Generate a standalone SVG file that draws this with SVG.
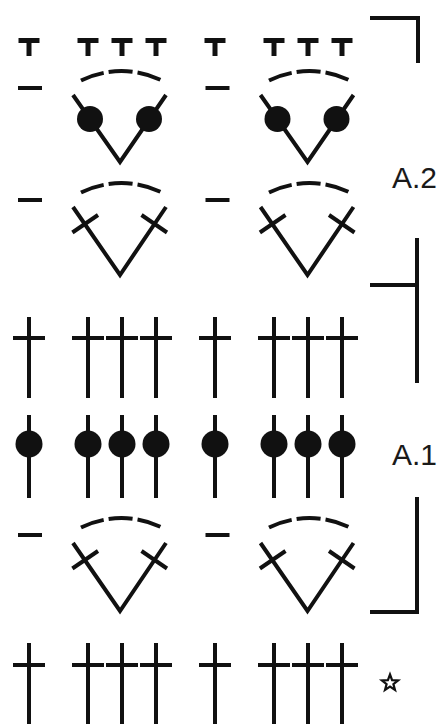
<svg xmlns="http://www.w3.org/2000/svg" width="444" height="724" viewBox="0 0 444 724">
<style>
.ln{stroke:#111;stroke-width:4;fill:none;stroke-linecap:butt}
.bold{stroke:#111;stroke-width:5;fill:none}
.dot{fill:#111}
.arc{stroke:#111;stroke-width:4;fill:none;stroke-dasharray:24 5}
.lbl{font-family:"Liberation Sans",Arial,sans-serif;font-size:30px;fill:#1a1a1a}
</style>
<defs>
<g id="ch"><line class="bold" x1="-10.5" y1="2.5" x2="10.5" y2="2.5"/><line class="bold" x1="0" y1="0" x2="0" y2="18"/></g>
<g id="dash"><line class="ln" x1="-12" y1="0" x2="12" y2="0"/></g>
<g id="arc"><path class="arc" d="M-40.5,9.5 A92,92 0 0 1 40.5,9.5"/></g>
<g id="vdot"><path class="ln" d="M-47,0 L0,67 L46,0"/><circle class="dot" cx="-30" cy="24" r="13"/><circle class="dot" cx="29" cy="24" r="13"/></g>
<g id="vx"><path class="ln" d="M-47,0 L0,68 L46,0"/><line class="ln" x1="-47.6" y1="25.5" x2="-22" y2="8"/><line class="ln" x1="21.5" y1="8" x2="47" y2="25.5"/></g>
<g id="tr"><line class="ln" x1="0" y1="0" x2="0" y2="81"/><line class="ln" x1="-16" y1="21" x2="16" y2="21"/></g>
<g id="dc"><line class="ln" x1="0" y1="0" x2="0" y2="83"/><circle class="dot" cx="0" cy="29" r="13.5"/></g>
<g id="trb"><line class="ln" x1="0" y1="0" x2="0" y2="81"/><line class="ln" x1="-16" y1="22" x2="16" y2="22"/></g>
</defs>

<g id="row1">
<use href="#ch" x="29" y="38"/><use href="#ch" x="88" y="38"/><use href="#ch" x="122" y="38"/><use href="#ch" x="156" y="38"/>
<use href="#ch" x="215" y="38"/><use href="#ch" x="274" y="38"/><use href="#ch" x="308" y="38"/><use href="#ch" x="342" y="38"/>
</g>
<g id="row2">
<use href="#dash" x="30" y="88"/><use href="#arc" x="121.5" y="71"/><use href="#vdot" x="120" y="95"/>
<use href="#dash" x="217.5" y="88"/><use href="#arc" x="309.5" y="71"/><use href="#vdot" x="307.5" y="95"/>
</g>
<g id="row3">
<use href="#dash" x="30" y="200"/><use href="#arc" x="121.5" y="183"/><use href="#vx" x="120" y="207"/>
<use href="#dash" x="217.5" y="200"/><use href="#arc" x="309.5" y="183"/><use href="#vx" x="307.5" y="207"/>
</g>
<g id="row4">
<use href="#tr" x="29" y="317"/><use href="#tr" x="88" y="317"/><use href="#tr" x="122" y="317"/><use href="#tr" x="156" y="317"/>
<use href="#tr" x="215" y="317"/><use href="#tr" x="274" y="317"/><use href="#tr" x="308" y="317"/><use href="#tr" x="342" y="317"/>
</g>
<g id="row5">
<use href="#dc" x="29" y="415"/><use href="#dc" x="88" y="415"/><use href="#dc" x="122" y="415"/><use href="#dc" x="156" y="415"/>
<use href="#dc" x="215" y="415"/><use href="#dc" x="274" y="415"/><use href="#dc" x="308" y="415"/><use href="#dc" x="342" y="415"/>
</g>
<g id="row6">
<use href="#dash" x="30" y="535"/><use href="#arc" x="121.5" y="518"/><use href="#vx" x="120" y="543"/>
<use href="#dash" x="217.5" y="535"/><use href="#arc" x="309.5" y="518"/><use href="#vx" x="307.5" y="543"/>
</g>
<g id="row7">
<use href="#trb" x="29" y="643"/><use href="#trb" x="88" y="643"/><use href="#trb" x="122" y="643"/><use href="#trb" x="156" y="643"/>
<use href="#trb" x="215" y="643"/><use href="#trb" x="274" y="643"/><use href="#trb" x="308" y="643"/><use href="#trb" x="342" y="643"/>
</g>
<g id="brackets">
<path class="ln" d="M370,18 H418 V63"/>
<path class="ln" d="M417,238 V383 M370,285 H417"/>
<path class="ln" d="M417,497 V612 H370"/>
</g>
<g id="labels">
<text class="lbl" x="392" y="188">A.2</text>
<text class="lbl" x="392" y="465">A.1</text>
</g>
<g id="star">
<polygon points="390,674.5 392.1,680.1 398.1,680.4 393.4,684.1 395,689.9 390,686.6 385,689.9 386.6,684.1 381.9,680.4 387.9,680.1" fill="none" stroke="#111" stroke-width="2.2" stroke-linejoin="miter"/>
</g>
</svg>
